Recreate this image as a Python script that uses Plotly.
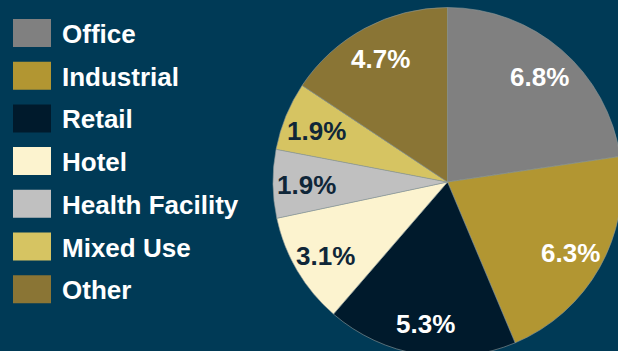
import math
import plotly.graph_objects as go

# Share of loans by property type
categories = ["Office", "Industrial", "Retail", "Hotel", "Health Facility", "Mixed Use", "Other"]
values = [6.8, 6.3, 5.3, 3.1, 1.9, 1.9, 4.7]
labels_text = ["6.8%", "6.3%", "5.3%", "3.1%", "1.9%", "1.9%", "4.7%"]

colors = ["#808080", "#B29632", "#001A2C", "#FCF3CF", "#C0C0C0", "#D6C462", "#8A7535"]
text_colors = ["#FFFFFF", "#FFFFFF", "#FFFFFF", "#0F2638", "#0F2638", "#0F2638", "#FFFFFF"]
BG = "#003A56"
FONT = "Liberation Sans, Arial, sans-serif"
FONT_SIZE = 26

W, H = 622, 364  # canvas slightly larger than the viewport so the pie bleeds off the edges
PIE_X0 = 273 / W

fig = go.Figure()
fig.add_trace(go.Pie(
    labels=categories,
    values=values,
    textinfo="none",
    marker=dict(colors=colors, line=dict(color="#8f9a9a", width=0.6)),
    sort=False,
    direction="clockwise",
    rotation=0,
    showlegend=False,
    domain=dict(x=[PIE_X0, 1.0], y=[0.0, 1.0]),
    hovertext=labels_text,
    hoverinfo="label+text",
))

# Pie geometry in pixels (domain is wider than tall, so height sets the radius)
dom_w = (1.0 - PIE_X0) * W
radius = min(dom_w, H) / 2
cx = PIE_X0 * W + dom_w / 2
cy = H / 2
label_r = 0.81 * radius

annotations = []
total = sum(values)
cum = 0.0
for val, txt, tc in zip(values, labels_text, text_colors):
    mid = (cum + val / 2) / total * 2 * math.pi  # clockwise from 12 o'clock
    cum += val
    px = cx + label_r * math.sin(mid)
    py = cy - label_r * math.cos(mid) + 2
    annotations.append(dict(
        text=txt, xref="paper", yref="paper",
        x=px / W, y=1 - py / H, xanchor="center", yanchor="middle",
        showarrow=False,
        font=dict(family=FONT, size=FONT_SIZE, color=tc, weight="bold"),
    ))

# Legend: swatch and label per category
shapes = []
for i, (name, col) in enumerate(zip(categories, colors)):
    yc = 33 + 42.7 * i
    shapes.append(dict(
        type="rect", xref="paper", yref="paper",
        x0=13 / W, x1=51 / W, y0=1 - (yc + 14) / H, y1=1 - (yc - 14) / H,
        fillcolor=col, line=dict(width=0), layer="above",
    ))
    annotations.append(dict(
        text=name, xref="paper", yref="paper",
        x=60 / W, y=1 - (yc + 1) / H, xanchor="left", yanchor="middle",
        showarrow=False,
        font=dict(family=FONT, size=FONT_SIZE, color="#FFFFFF", weight="bold"),
    ))

fig.update_layout(
    width=W, height=H,
    margin=dict(l=0, r=0, t=0, b=0),
    paper_bgcolor=BG,
    plot_bgcolor=BG,
    shapes=shapes,
    annotations=annotations,
)

fig.write_html(
    "out.html",
    post_script="document.documentElement.style.overflow='hidden';"
                "document.body.style.overflow='hidden';document.body.style.margin='0';"
                "document.body.style.background='" + BG + "';",
)
